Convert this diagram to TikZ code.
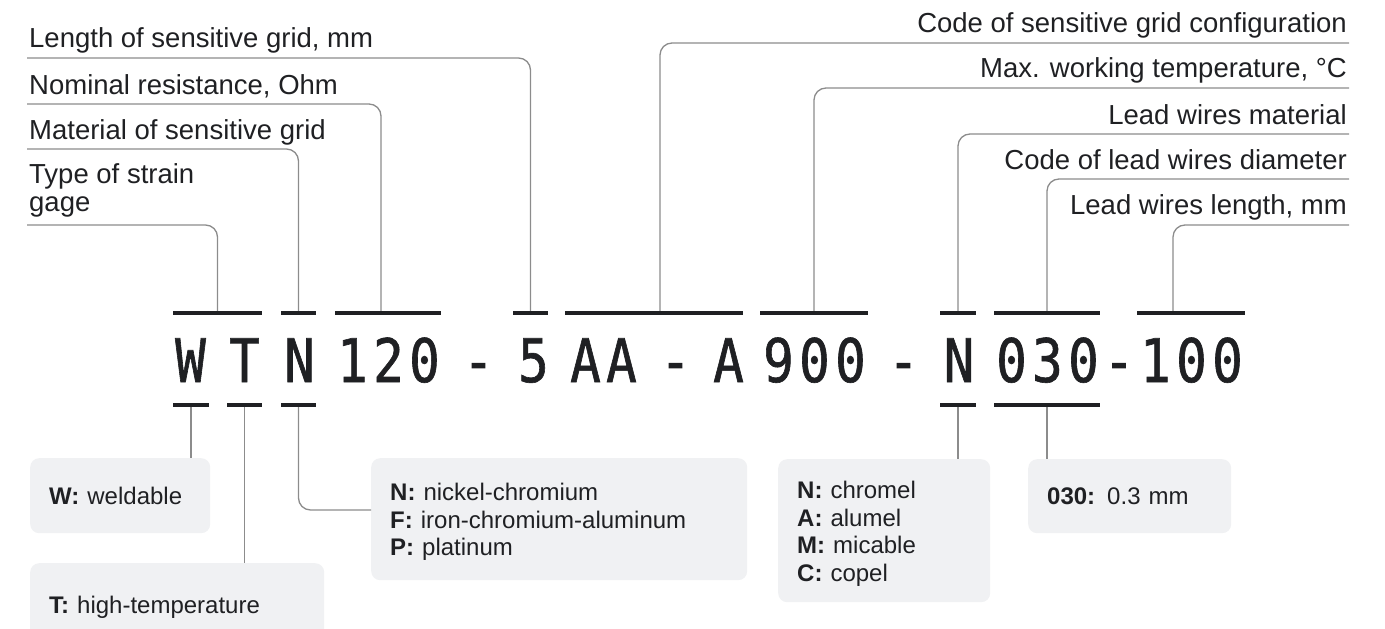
\documentclass[tikz,border=0pt]{standalone}
\usepackage{fontspec}
\setmainfont{Liberation Sans}
\newfontfamily\codefont[FakeStretch=0.85,FakeBold=1]{DejaVu Sans Mono}
\usetikzlibrary{calc}
\definecolor{inkc}{HTML}{1F2023}
\definecolor{linec}{HTML}{8C8C8C}
\definecolor{boxc}{HTML}{F0F1F3}
\newcommand\cg{\hspace{5.3pt}}
\newcommand\boxtail{\endgraf\vspace*{-6pt}}
\begin{document}
\begin{tikzpicture}[x=1pt,y=-1pt,
  bar/.style={fill=inkc,draw=none,rectangle,inner sep=0pt,minimum height=4pt},
  conn/.style={draw=linec,line width=1.3pt,rounded corners=12pt},
  stem/.style={draw=linec,line width=1.3pt},
  toplab/.style={font=\fontsize{27.5}{28}\selectfont,text=inkc,inner sep=0pt},
  codech/.style={font=\codefont\fontsize{60}{60}\selectfont,text=inkc,inner sep=0pt,anchor=base},
  infobox/.style={fill=boxc,draw=none,rounded corners=9pt,anchor=north west,
    inner xsep=19pt,inner ysep=0pt,align=left,text=inkc,
    font=\fontsize{24}{27.5}\selectfont,
    execute at end node=\boxtail}
]
\useasboundingbox (0,0) rectangle (1385,629);

% ---------- code characters ----------
\node[codech] (cW)  at (190.5,382) {W};
\node[codech] (cT)  at (244.5,382) {T};
\node[codech] (cN)  at (299.5,382) {N};
\node[codech] (c120) at (388.5,382) {1\cg2\cg0};
\node[codech] (d1)  at (478.5,382) {-};
\node[codech] (c5)  at (533.5,382) {5};
\node[codech] (cAA) at (603.5,382) {A\cg A};
\node[codech] (d2)  at (675.5,382) {-};
\node[codech] (cA)  at (728.5,382) {A};
\node[codech] (c900) at (814.5,382) {9\cg0\cg0};
\node[codech] (d3)  at (903.5,382) {-};
\node[codech] (cNl) at (959,382) {N};
\node[codech] (c030) at (1047.5,382) {0\cg3\cg0};
\node[codech] (d4)  at (1119,382) {-};
\node[codech] (c100) at (1191.5,382) {1\cg0\cg0};

% ---------- top bars ----------
\node[bar,minimum width=89pt]  (bWT)  at (217.5,313) {};
\node[bar,minimum width=35pt]  (bN)   at (298.5,313) {};
\node[bar,minimum width=106pt] (b120) at (388,313) {};
\node[bar,minimum width=35pt]  (b5)   at (530.5,313) {};
\node[bar,minimum width=178pt] (bAA)  at (654,313) {};
\node[bar,minimum width=108pt] (b900) at (814,313) {};
\node[bar,minimum width=36pt]  (bNl)  at (958,313) {};
\node[bar,minimum width=106pt] (b030) at (1047,313) {};
\node[bar,minimum width=108pt] (b100) at (1191,313) {};

% ---------- bottom bars ----------
\node[bar,minimum width=36pt]  (uW)   at (191,405) {};
\node[bar,minimum width=35pt]  (uT)   at (244.5,405) {};
\node[bar,minimum width=35pt]  (uN)   at (298.5,405) {};
\node[bar,minimum width=36pt]  (uNl)  at (958,405) {};
\node[bar,minimum width=106pt] (u030) at (1047,405) {};

% ---------- top-left labels ----------
\node[toplab,anchor=base west] (tLen) at (29,47)  {Length of sensitive grid, mm};
\node[toplab,anchor=base west] (tNom) at (29,94)  {Nominal resistance, Ohm};
\node[toplab,anchor=base west] (tMat) at (29,139) {Material of sensitive grid};
\node[toplab,anchor=base west,align=left] (tType) at (29,211) {Type of strain\\gage};

\coordinate (sLen)  at (27,58);
\coordinate (sNom)  at (27,104);
\coordinate (sMat)  at (27,149);
\coordinate (sType) at (27,225);

% ---------- top-right labels ----------
\node[toplab,anchor=base east] (tCfg)  at (1347,32)  {Code of sensitive grid configuration};
\node[toplab,anchor=base east] (tMax)  at (1347,77)  {Max. working temperature, °C};
\node[toplab,anchor=base east] (tLwm)  at (1347,124) {Lead wires material};
\node[toplab,anchor=base east] (tLwd)  at (1347,169) {Code of lead wires diameter};
\node[toplab,anchor=base east] (tLwl)  at (1347,214) {Lead wires length, mm};

\coordinate (sCfg) at (1349,43);
\coordinate (sMax) at (1349,88);
\coordinate (sLwm) at (1349,134);
\coordinate (sLwd) at (1349,179);
\coordinate (sLwl) at (1349,225);

% ---------- top connectors ----------
\draw[conn] (sLen)  -| (b5.north);
\draw[conn] (sNom)  -| ($(b120.north)+(-7,0)$);
\draw[conn] (sMat)  -| (bN.north);
\draw[conn] (sType) -| (bWT.north);
\draw[conn] (sCfg)  -| ($(bAA.north)+(6,0)$);
\draw[conn] (sMax)  -| (b900.north);
\draw[conn] (sLwm)  -| (bNl.north);
\draw[conn] (sLwd)  -| (b030.north);
\draw[conn] (sLwl)  -| ($(b100.north)+(-18,0)$);

% ---------- bottom boxes ----------
\node[infobox,text width=142pt,minimum height=75pt] (boxW) at (30,458) {\textbf{W:} weldable};
\node[infobox,text width=256pt,minimum height=84pt] (boxT) at (30,563) {\textbf{T:} high-temperature};
\node[infobox,text width=338pt,minimum height=122pt] (boxN) at (371,458) {\textbf{N:} nickel-chromium\\\textbf{F:} iron-chromium-aluminum\\\textbf{P:} platinum};
\node[infobox,text width=174pt,minimum height=143pt] (boxL) at (778,459) {\textbf{N:} chromel\\\textbf{A:} alumel\\\textbf{M:} micable\\\textbf{C:} copel};
\node[infobox,text width=165pt,minimum height=74pt] (boxD) at (1028,459) {\textbf{030:} 0.3 mm};

% ---------- bottom connectors ----------
\draw[stem] (uW.south) -- (uW.south |- boxW.north);
\draw[stem] (uT.south) -- (uT.south |- boxT.north);
\draw[conn] (uN.south) |- ($(boxN.north west)+(0,52)$);
\draw[stem] (uNl.south) -- (uNl.south |- boxL.north);
\draw[stem] (u030.south) -- (u030.south |- boxD.north);
\end{tikzpicture}
\end{document}
